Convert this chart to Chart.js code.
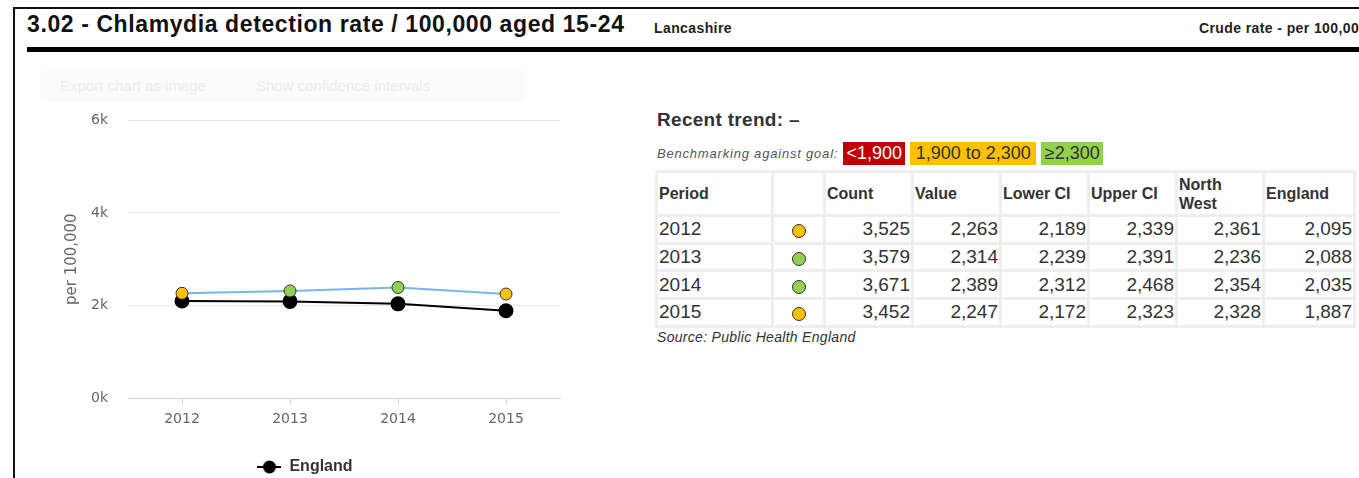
<!DOCTYPE html>
<html>
<head>
<meta charset="utf-8">
<script src="https://cdn.jsdelivr.net/npm/chart.js@4"></script>
<style>
    body { margin: 0; background: #fff; font-family: "Liberation Sans", Arial, sans-serif; width: 1359px; height: 478px; overflow: hidden; position: relative; }
    .frame { position: absolute; left: 13px; top: 7px; width: 1400px; height: 520px; border: 2px solid #111; }
    .title { position: absolute; left: 27px; top: 11px; font-size: 23px; letter-spacing: 0.6px; font-weight: bold; color: #111; white-space: nowrap; }
    .area { position: absolute; left: 654px; top: 20px; font-size: 14px; letter-spacing: 0.4px; font-weight: bold; color: #222; }
    .unit { position: absolute; left: 1199px; top: 20px; font-size: 14px; letter-spacing: 0.4px; font-weight: bold; color: #222; white-space: nowrap; }
    .rule { position: absolute; left: 27px; top: 47px; width: 1400px; height: 5px; background: #000; }
    .faint { position: absolute; left: 40px; top: 71px; width: 485px; height: 30px; background: #fbfbfb; border-radius: 4px; color: #eee; font-size: 15px; line-height: 30px; }
    .faint span { margin-left: 20px; margin-right: 30px; }
    .trend { position: absolute; left: 657px; top: 109px; font-size: 19px; letter-spacing: 0.3px; font-weight: bold; color: #333; }
    .bench { position: absolute; left: 657px; top: 142px; height: 23px; line-height: 23px; font-size: 13px; letter-spacing: 0.8px; font-style: italic; color: #555; white-space: nowrap; }
    .badge { display: inline-block; height: 23px; line-height: 23px; text-align: center; font-size: 18px; letter-spacing: 0; font-style: normal; margin-left: 5px; vertical-align: top; }
    table { position: absolute; left: 655px; top: 170px; border-spacing: 3px; background: #eee; table-layout: fixed; width: 700px; }
    td, th { background: #fff; padding: 0 1px; color: #333; }
    th { font-size: 16px; text-align: left; height: 41px; line-height: 19px; }
    td { font-size: 19px; height: 24.7px; line-height: 22px; text-align: right; }
    td.p { text-align: left; }
    td.d { text-align: center; }
    .dot { display: inline-block; width: 12px; height: 12px; border-radius: 50%; border: 1px solid #333; margin-top: 2px; vertical-align: middle; }
    .source { position: absolute; left: 657px; top: 329px; font-size: 14px; letter-spacing: 0.3px; font-style: italic; color: #333; }
    .chartbox { position: absolute; left: 20px; top: 92px; width: 560px; height: 398px; }
</style>
</head>
<body>
<div class="frame"></div>
<div class="title">3.02 - Chlamydia detection rate / 100,000 aged 15-24</div>
<div class="area">Lancashire</div>
<div class="unit">Crude rate - per 100,000</div>
<div class="rule"></div>
<div class="faint"><span>Export chart as image</span><span>Show confidence intervals</span></div>
<div class="chartbox"><canvas id="trendChart"></canvas></div>
<div class="trend">Recent trend: &ndash;</div>
<div class="bench" id="bench">Benchmarking against goal:</div>
<table id="dataTable"></table>
<div class="source">Source: Public Health England</div>

<script>
const periods = ["2012", "2013", "2014", "2015"];
const counts = [3525, 3579, 3671, 3452];
const values = [2263, 2314, 2389, 2247];
const lowerCI = [2189, 2239, 2312, 2172];
const upperCI = [2339, 2391, 2468, 2323];
const northWest = [2361, 2236, 2354, 2328];
const england = [2095, 2088, 2035, 1887];
const goalBands = [1900, 2300];
const yTicks = [0, 2000, 4000, 6000];

const RED = '#c00000', ORANGE = '#ffc000', GREEN = '#92d050';
function bandColor(v) {
    if (v < goalBands[0]) return RED;
    if (v < goalBands[1]) return ORANGE;
    return GREEN;
}
const fmt = v => v.toLocaleString('en-GB');

// benchmark badges
const bench = document.getElementById('bench');
[
    ['<' + fmt(goalBands[0]), RED, '#fff', 62],
    [fmt(goalBands[0]) + ' to ' + fmt(goalBands[1]), ORANGE, '#333', 126],
    ['\u2265' + fmt(goalBands[1]), GREEN, '#333', 62]
].forEach(b => {
    const s = document.createElement('span');
    s.className = 'badge';
    s.textContent = b[0];
    s.style.background = b[1];
    s.style.color = b[2];
    s.style.width = b[3] + 'px';
    bench.appendChild(s);
});

// table
const tbl = document.getElementById('dataTable');
const widths = [113, 49, 85, 85, 85, 85, 84, 88];
let html = '<colgroup>' + widths.map(w => '<col style="width:' + w + 'px">').join('') + '</colgroup>';
html += '<tr><th>Period</th><th></th><th>Count</th><th>Value</th><th>Lower CI</th><th>Upper CI</th><th>North<br>West</th><th>England</th></tr>';
periods.forEach((p, i) => {
    html += '<tr><td class="p">' + p + '</td><td class="d"><span class="dot" style="background:' + bandColor(values[i]) + '"></span></td>' +
        [counts, values, lowerCI, upperCI, northWest, england].map(a => '<td>' + fmt(a[i]) + '</td>').join('') + '</tr>';
});
tbl.innerHTML = html;

// legend marker: line with a circle
const marker = document.createElement('canvas');
marker.width = 24; marker.height = 14;
const mctx = marker.getContext('2d');
mctx.strokeStyle = '#000'; mctx.lineWidth = 2;
mctx.beginPath(); mctx.moveTo(0, 7); mctx.lineTo(24, 7); mctx.stroke();
mctx.fillStyle = '#000';
mctx.beginPath(); mctx.arc(12, 7, 6.5, 0, Math.PI * 2); mctx.fill();

const ctx = document.getElementById('trendChart').getContext('2d');
const trendChart = new Chart(ctx, {
    type: 'line',
    data: {
        labels: periods,
        datasets: [
            {
                label: 'Lancashire',
                data: values,
                borderColor: '#7cb5ec',
                borderWidth: 2,
                pointBackgroundColor: values.map(bandColor),
                pointBorderColor: '#333',
                pointBorderWidth: 1,
                pointRadius: 6,
                tension: 0
            },
            {
                label: 'England',
                data: england,
                borderColor: '#000',
                borderWidth: 2,
                pointBackgroundColor: '#000',
                pointBorderColor: '#000',
                pointRadius: 6.5,
                tension: 0
            }
        ]
    },
    options: {
        responsive: true,
        maintainAspectRatio: false,
        animation: false,
        layout: { padding: { top: 12, right: 20, bottom: 5, left: 30 } },
        scales: {
            x: {
                offset: true,
                grid: { display: true, drawOnChartArea: false, drawTicks: true, tickLength: 6, color: '#ccd6eb' },
                border: { color: '#ccd6eb' },
                ticks: { color: '#666', padding: 7, font: { family: 'DejaVu Sans', size: 14 } },
                afterFit: s => { s.height = 51; }
            },
            y: {
                min: yTicks[0],
                max: yTicks[yTicks.length - 1],
                afterBuildTicks: s => { s.ticks = yTicks.map(v => ({ value: v })); },
                grid: { color: c => c.tick.value === 0 ? 'rgba(0,0,0,0)' : '#e6e6e6', drawTicks: false },
                border: { display: false },
                ticks: { color: '#666', padding: 20, font: { family: 'DejaVu Sans', size: 14 }, callback: v => (v / 1000) + 'k' },
                title: { display: true, text: 'per 100,000', color: '#666', font: { family: 'DejaVu Sans', size: 15 }, padding: { top: 13, bottom: 0 } },
                afterFit: s => { s.width = 78; }
            }
        },
        plugins: {
            legend: {
                position: 'bottom',
                labels: {
                    filter: item => item.text === 'England',
                    usePointStyle: true,
                    pointStyle: marker,
                    pointStyleWidth: 24,
                    padding: 10,
                    color: '#333',
                    font: { family: 'Liberation Sans', size: 16, weight: 'bold' }
                }
            },
            tooltip: { enabled: false }
        }
    }
});
</script>
</body>
</html>
